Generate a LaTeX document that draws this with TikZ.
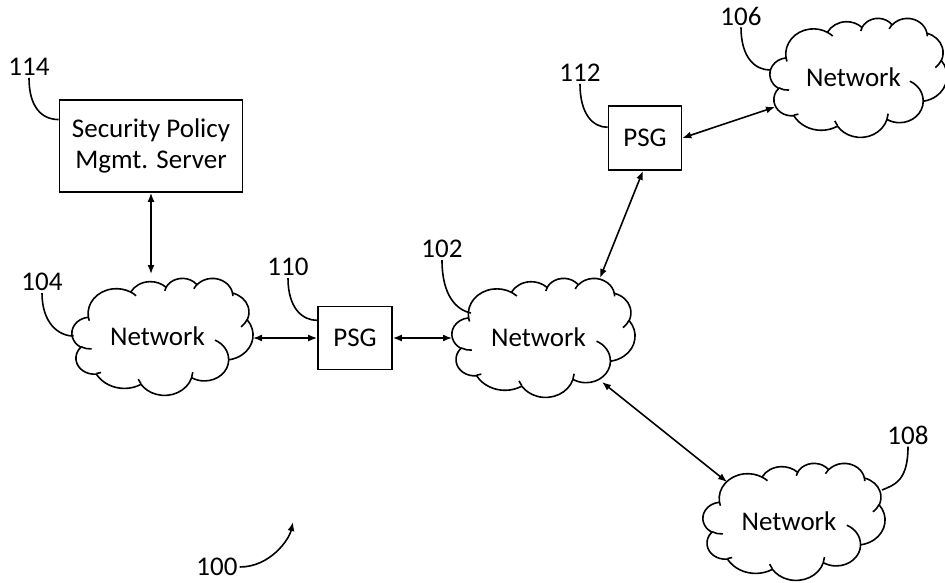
\documentclass[tikz,border=0pt]{standalone}
\usepackage{fontspec}
\setmainfont{Carlito}
\usetikzlibrary{arrows.meta}
% convert an OOXML arc (visual angles) into TikZ parametric angles
\newcommand\ooarccalc[4]{%
  \pgfmathsetmacro\ooT{atan2((#1)*sin(#3),(#2)*cos(#3))}%
  \pgfmathsetmacro\ooE{atan2((#1)*sin((#3)+(#4)),(#2)*cos((#3)+(#4)))}%
  \pgfmathsetmacro\ooD{\ooE-\ooT}%
  \pgfmathsetmacro\ooD{ifthenelse(\ooD<0,\ooD+360,\ooD)}%
}
\newcommand\ooarc[4]{\pgfextra{\ooarccalc{#1}{#2}{#3}{#4}} arc[x radius=#1, y radius=#2, start angle=\ooT, delta angle=\ooD]}
\tikzset{
  cloudline/.style={line width=1.6pt,line join=round},
  officecloud/.pic={
    \draw[cloudline] (39.00,143.70)
      \ooarc{67.53}{91.90}{-190.4875}{123.7805}
      \ooarc{53.33}{72.67}{-144.1024}{89.9452}
      \ooarc{43.65}{59.45}{-145.8079}{99.7230}
      \ooarc{48.57}{65.95}{-130.9861}{117.2417}
      \ooarc{53.33}{72.73}{-78.7089}{109.0269}
      \ooarc{67.75}{92.20}{-46.2673}{130.2690}
      \ooarc{57.85}{78.67}{0.6250}{114.0333}
      \ooarc{67.52}{92.15}{22.4516}{115.1726}
      \ooarc{77.20}{105.43}{66.2426}{75.7110}
      \ooarc{43.60}{59.18}{-274.9421}{146.7356}
      \ooarc{43.45}{59.45}{-246.8285}{152.5189}
      -- cycle;
    \draw[cloudline] (46.93,261.77) \ooarc{43.45}{59.45}{86.742}{26.43};
    \draw[cloudline] (69.28,348.99) \ooarc{43.60}{59.18}{73.61}{11.447};
    \draw[cloudline] (164.78,390.90) \ooarc{67.52}{92.15}{137.624}{14.081};
    \draw[cloudline] (288.27,347.51) \ooarc{67.52}{92.15}{6.453}{15.998};
    \draw[cloudline] (341.29,229.54) \ooarc{57.85}{78.67}{-70.292}{70.917};
    \draw[cloudline] (417.98,153.54) \ooarc{53.33}{72.73}{30.318}{27.752};
    \draw[cloudline] (383.24,54.26) \ooarc{48.57}{65.95}{-13.744}{14.859};
    \draw[cloudline] (290.78,39.52) \ooarc{48.57}{65.95}{-149.181}{18.195};
    \draw[cloudline] (221.41,47.20) \ooarc{43.65}{59.45}{-163.494}{17.686};
    \draw[cloudline] (140.00,51.92) \ooarc{67.53}{91.90}{-66.707}{12.319};
    \draw[cloudline] (41.27,157.89) \ooarc{67.53}{91.90}{157.654}{11.858};
  }
}
% #1 name, #2 left, #3 top, #4 width, #5 height
\newcommand\drawnetcloud[5]{%
  \path (#2,#3) pic[xscale=#4/432,yscale=#5/432] {officecloud};
  \node[cloudbox,minimum width=#4pt,minimum height=#5pt] (#1) at (#2+#4/2,#3+#5/2) {};
  \node[cloudtext] (#1t) at ([xshift=-5pt]#1.center) {Network};
}
\begin{document}
\begin{tikzpicture}[x=1pt,y=-1pt,
  every node/.style={font=\fontsize{27}{31}\selectfont},
  cloudbox/.style={inner sep=0pt,outer sep=0pt},
  cloudtext/.style={inner sep=0pt},
  boxnode/.style={draw,line width=1.6pt,inner sep=0pt},
  refnum/.style={inner sep=0pt},
  link/.style={line width=1.6pt,{Latex[length=9pt,width=7pt]}-{Latex[length=9pt,width=7pt]}},
  leader/.style={line width=1.6pt}]
\useasboundingbox (0,0) rectangle (945,583);
% clouds
\drawnetcloud{n104}{72}{278}{181}{117}
\drawnetcloud{n102}{452}{278}{183}{119}
\drawnetcloud{n106}{770}{18}{177}{119}
\drawnetcloud{n108}{703}{463}{182}{117}
% boxes
\node[boxnode,minimum width=183pt,minimum height=92pt,align=center] (srv) at (151,146) {Security Policy\\Mgmt. Server};
\node[boxnode,minimum width=74pt,minimum height=63pt] (p110) at (355,338) {PSG};
\node[boxnode,minimum width=73pt,minimum height=64pt] (p112) at (645,138) {PSG};
% reference numerals
\node[refnum] (l114) at (29,67) {114};
\node[refnum] (l104) at (42,282) {104};
\node[refnum] (l110) at (288,267) {110};
\node[refnum] (l102) at (442,249) {102};
\node[refnum] (l112) at (580,73) {112};
\node[refnum] (l106) at (741,16) {106};
\node[refnum] (l108) at (908,435) {108};
\node[refnum] (l100) at (217,567) {100};
\coordinate (t100) at (293,522);
% links
\draw[link] (srv.south) -- ([yshift=4pt]srv.south |- n104.north);
\draw[link] (n104.east |- p110.west) -- (p110.west);
\draw[link] (p110.east) -- (n102.west |- p110.east);
\draw[link] ([shift={(56.5,-59.5)}]n102.center) -- ([xshift=-2pt]p112.south);
\draw[link] (p112.east) -- ([shift={(-83.5,29.5)}]n106.center);
\draw[link] ([shift={(58.5,44.5)}]n102.center) -- ([shift={(-67,-39.5)}]n108.center);
% leaders
\draw[leader] ([yshift=-2pt]l114.south) .. controls +(0,28) and +(-18,0) .. (srv.164);
\draw[leader] ([yshift=-2pt]l104.south) .. controls +(0,30) and +(-15,0) .. ([shift={(-89,-0.5)}]n104.center);
\draw[leader] ([yshift=-2pt]l110.south) .. controls +(0,30) and +(-15,0) .. (p110.155);
\draw[leader] ([yshift=-2pt]l102.south) .. controls +(0,35) and +(-15,-3) .. ([shift={(-72.5,-24.5)}]n102.center);
\draw[leader] ([yshift=-2pt]l112.south) .. controls +(0,30) and +(-15,0) .. (p112.164);
\draw[leader] ([yshift=-2pt]l106.south) .. controls +(0,30) and +(-15,0) .. ([shift={(-88.5,-7.5)}]n106.center);
\draw[leader] ([yshift=-2pt]l108.south) .. controls +(0,35) and +(12,-5) .. ([shift={(88,-31.5)}]n108.center);
\draw[leader,-{Latex[length=9pt,width=7pt]}] ([xshift=2pt]l100.east) .. controls +(30,0) and +(-4,18) .. (t100);
\end{tikzpicture}
\end{document}
